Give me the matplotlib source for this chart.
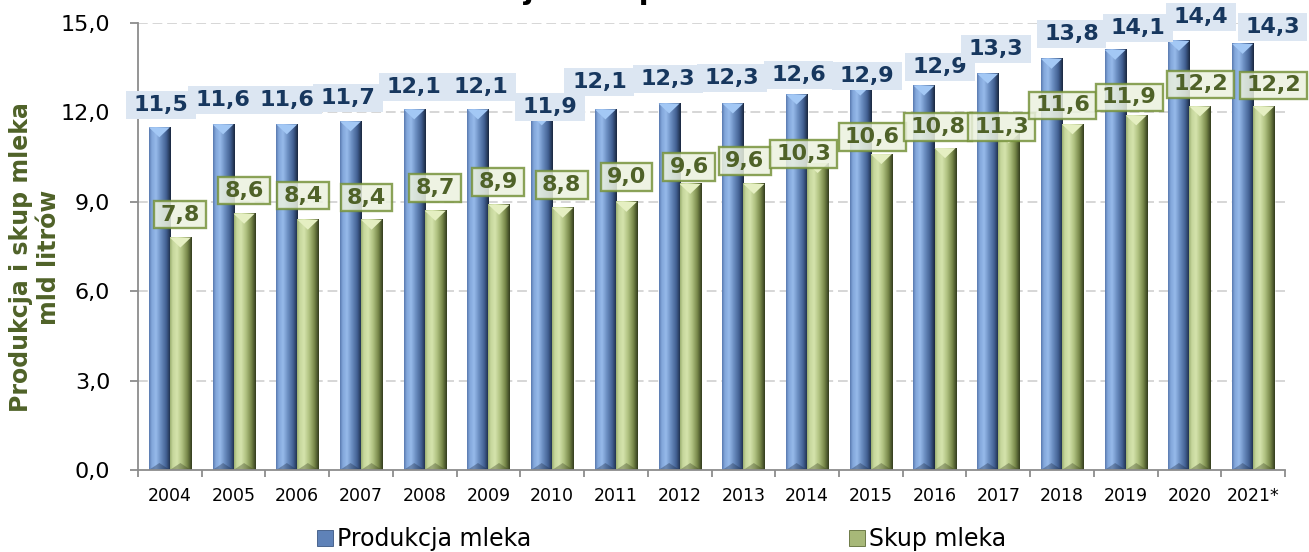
import numpy as np
import matplotlib
matplotlib.use("Agg")
import matplotlib.pyplot as plt
from matplotlib.colors import LinearSegmentedColormap
from matplotlib.patches import Polygon, Patch
from matplotlib.path import Path
from matplotlib.ticker import FixedLocator, FuncFormatter

# ---------------- data ----------------
years = ['2004', '2005', '2006', '2007', '2008', '2009', '2010', '2011', '2012',
         '2013', '2014', '2015', '2016', '2017', '2018', '2019', '2020', '2021*']
produkcja = [11.5, 11.6, 11.6, 11.7, 12.1, 12.1, 11.9, 12.1, 12.3,
             12.3, 12.6, 12.9, 12.9, 13.3, 13.8, 14.1, 14.4, 14.3]
skup = [7.8, 8.6, 8.4, 8.4, 8.7, 8.9, 8.8, 9.0, 9.6,
        9.6, 10.3, 10.6, 10.8, 11.3, 11.6, 11.9, 12.2, 12.2]
series_names = ['Produkcja mleka', 'Skup mleka']
title = 'Produkcja i skup mleka w Polsce'
ylabel = 'Produkcja i skup mleka\nmld litrów'
yticks = [0, 3, 6, 9, 12, 15]

# label placement offsets (pixels) relative to bar top centre -- style only
blue_dx = [2, 0, 0, -3, 0, 3, 8, -6, -1, -1, 2, 7, 16, 8, 20, 23, 22, 30]
blue_dy = [22, 24, 24, 23, 22, 22, 8, 27, 24, 25, 20, 10, 19, 25, 25, 22, 24, 17]
green_dx = [0, 0, -5, -5, 0, -1, -1, 0, -1, -9, -14, -9, -7, -7, -10, -7, 1, 10]
green_dy = [23, 23, 24, 22, 23, 23, 23, 25, 17, 23, 9, 17, 21, 6, 19, 18, 22, 21]

def fmt(v):
    return f"{v:.1f}".replace('.', ',')

plt.rcParams['font.family'] = ['DejaVu Sans']
plt.rcParams['lines.scale_dashes'] = False

W, H = 1309, 552
fig = plt.figure(figsize=(W / 100, H / 100), dpi=100)
L, R, B, T = 138, 1285, 470, 23
ax = fig.add_axes([L / W, 1 - B / H, (R - L) / W, (B - T) / H])

x = np.arange(len(years))
bw = 0.33
blue_bars = ax.bar(x - bw / 2, produkcja, bw, color='#6F93C8', zorder=2, linewidth=0)
green_bars = ax.bar(x + bw / 2, skup, bw, color='#B4C685', zorder=2, linewidth=0)

blue_cmap = LinearSegmentedColormap.from_list('b', [
    (0.0, '#5A7AB0'), (0.12, '#82A6DA'), (0.32, '#96BAEA'),
    (0.55, '#6A8DC0'), (0.8, '#415F91'), (1.0, '#1A2840')])
green_cmap = LinearSegmentedColormap.from_list('g', [
    (0.0, '#9DB073'), (0.12, '#C6D79C'), (0.32, '#D5E3AC'),
    (0.55, '#B0C281'), (0.8, '#778749'), (1.0, '#343D1E')])

grad = np.linspace(0, 1, 64).reshape(1, -1)
px_per_unit = (B - T) / 15.0
bevel_top = 10 / px_per_unit
bevel_bot = 7 / px_per_unit

def shade(bars, cmap, topcol, botcol):
    for p in bars:
        x0, w, h = p.get_x(), p.get_width(), p.get_height()
        ax.imshow(grad, cmap=cmap, extent=[x0, x0 + w, 0, h], aspect='auto',
                  zorder=2.1, interpolation='bilinear')
        ax.add_patch(Polygon([(x0, h), (x0 + w, h), (x0 + w / 2, h - bevel_top)],
                             closed=True, facecolor=topcol, edgecolor='none',
                             zorder=2.2))
        ax.add_patch(Polygon([(x0, 0), (x0 + w, 0), (x0 + w / 2, bevel_bot)],
                             closed=True, facecolor=botcol, edgecolor='none',
                             alpha=0.35, zorder=2.2))

shade(blue_bars, blue_cmap, '#A3C8F5', '#1C2B45')
shade(green_bars, green_cmap, '#E5EFC2', '#363F1F')

ax.set_xlim(-0.5, len(years) - 0.5)
ax.set_ylim(0, 15)

# axes styling
for s in ['top', 'right']:
    ax.spines[s].set_visible(False)
for s in ['left', 'bottom']:
    ax.spines[s].set_color('#8C8C8C')
    ax.spines[s].set_linewidth(1.3)

ax.yaxis.set_major_locator(FixedLocator(yticks))
ax.yaxis.set_major_formatter(FuncFormatter(lambda v, p: fmt(v)))
ax.tick_params(axis='y', length=6, width=1.3, color='#8C8C8C', pad=14,
               labelsize=16, labelcolor='black')
for yv in yticks[1:]:
    ax.axhline(yv, color='#D6D6D6', lw=1.4, linestyle=(0, (7, 3.5)), zorder=1)

ax.set_xticks(x)
ax.set_xticklabels(years)
ax.set_xticks(np.arange(len(years) + 1) - 0.5, minor=True)
ax.tick_params(axis='x', which='major', length=0, pad=12, labelsize=12.5)
ax.tick_params(axis='x', which='minor', length=5, width=1.3, color='#8C8C8C')

ax.set_ylabel(ylabel, fontsize=17, fontweight='bold', color='#4F6228',
              linespacing=1.2)
ax.yaxis.set_label_coords((61 - L) / (R - L), (B - 257) / (B - T))

# label boxes with custom padding
def make_box(padx, pady):
    def box(x0, y0, width, height, mutation_size):
        px, py = padx * mutation_size, pady * mutation_size
        verts = [(x0 - px, y0 - py), (x0 + width + px, y0 - py),
                 (x0 + width + px, y0 + height + py), (x0 - px, y0 + height + py),
                 (x0 - px, y0 - py)]
        return Path(verts, closed=True)
    return box

blue_box = make_box(0.34, 0.18)
green_box = make_box(0.28, 0.17)

for i, p in enumerate(blue_bars):
    cx = p.get_x() + p.get_width() / 2
    ax.annotate(fmt(produkcja[i]), xy=(cx, p.get_height()),
                xytext=(blue_dx[i], blue_dy[i]), textcoords='offset pixels',
                ha='center', va='center', fontsize=16, fontweight='bold',
                color='#17375E', zorder=5, annotation_clip=False,
                bbox=dict(boxstyle=blue_box, facecolor='#DCE6F2', edgecolor='none'))

for i, p in enumerate(green_bars):
    cx = p.get_x() + p.get_width() / 2
    ax.annotate(fmt(skup[i]), xy=(cx, p.get_height()),
                xytext=(green_dx[i], green_dy[i]), textcoords='offset pixels',
                ha='center', va='center', fontsize=16, fontweight='bold',
                color='#4F6228', zorder=4, annotation_clip=False,
                bbox=dict(boxstyle=green_box, facecolor='#EBF1DE', alpha=0.85,
                          edgecolor='#77933C', linewidth=1.7))

# legend
h_blue = Patch(facecolor='#5F82B8', edgecolor='#3B5682', linewidth=0.6)
h_green = Patch(facecolor='#A7B878', edgecolor='#5E6B36', linewidth=0.6)
for h, name, xs in [(h_blue, series_names[0], 317), (h_green, series_names[1], 849)]:
    fig.legend([h], [name], loc='center left', bbox_to_anchor=(xs / W, 1 - 539 / H),
               frameon=False, fontsize=17, handlelength=0.68, handleheight=0.68,
               handletextpad=0.15, borderpad=0, borderaxespad=0)

# title (sits above the visible canvas, only descenders show, as in the source)
fig.text(0.5, 1 + 1 / H, title, ha='center', va='baseline', fontsize=20.5,
         fontweight='bold', color='black')

fig.savefig('out.png', dpi=100)
